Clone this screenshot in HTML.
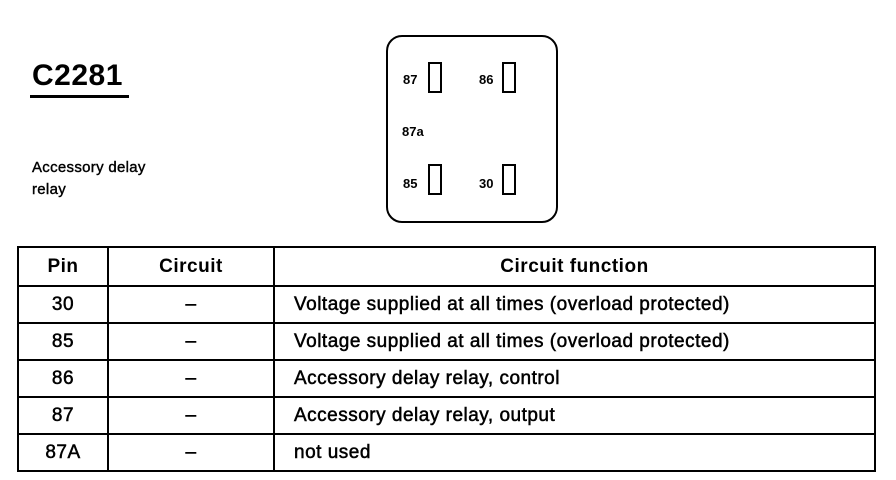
<!DOCTYPE html>
<html><head><style>
body{margin:0;width:896px;height:480px;background:#fff;position:relative;overflow:hidden;font-family:"Liberation Sans",Arial,sans-serif;color:#000}
.a{position:absolute}
table{position:absolute;left:17px;top:246px;border-collapse:collapse;font-size:19px;table-layout:fixed;width:857px;font-weight:bold;letter-spacing:0.5px}
td{border:2px solid #000;height:35px;padding:0;text-align:center;font-weight:normal;-webkit-text-stroke:0.5px #000}
td.f{text-align:left;padding-left:19px}
th{border:2px solid #000;height:35px;font-weight:bold;font-size:19px}
.pin{position:absolute;width:10px;height:27px;border:2px solid #000}
.lb{position:absolute;font-size:13px;font-weight:bold}
</style></head><body>
<div class="a" style="left:32px;top:59px;font-size:30px;font-weight:bold;letter-spacing:0.5px">C2281</div>
<div class="a" style="left:30px;top:95px;width:99px;height:3px;background:#000"></div>
<div class="a" style="left:32px;top:157px;font-size:15px;line-height:22px;-webkit-text-stroke:0.4px #000;letter-spacing:0.3px">Accessory delay<br>relay</div>
<div class="a" style="left:386px;top:35px;width:168px;height:184px;border:2px solid #000;border-radius:16px"></div>
<div class="pin" style="left:428px;top:62px"></div>
<div class="pin" style="left:502px;top:62px"></div>
<div class="pin" style="left:428px;top:164px"></div>
<div class="pin" style="left:502px;top:164px"></div>
<div class="lb" style="left:403px;top:72px">87</div>
<div class="lb" style="left:479px;top:72px">86</div>
<div class="lb" style="left:402px;top:124px">87a</div>
<div class="lb" style="left:403px;top:176px">85</div>
<div class="lb" style="left:479px;top:176px">30</div>
<table>
<colgroup><col style="width:90px"><col style="width:166px"><col style="width:601px"></colgroup>
<tr><th>Pin</th><th>Circuit</th><th>Circuit function</th></tr>
<tr><td>30</td><td>–</td><td class="f">Voltage supplied at all times (overload protected)</td></tr>
<tr><td>85</td><td>–</td><td class="f">Voltage supplied at all times (overload protected)</td></tr>
<tr><td>86</td><td>–</td><td class="f">Accessory delay relay, control</td></tr>
<tr><td>87</td><td>–</td><td class="f">Accessory delay relay, output</td></tr>
<tr><td>87A</td><td>–</td><td class="f">not used</td></tr>
</table>
</body></html>
